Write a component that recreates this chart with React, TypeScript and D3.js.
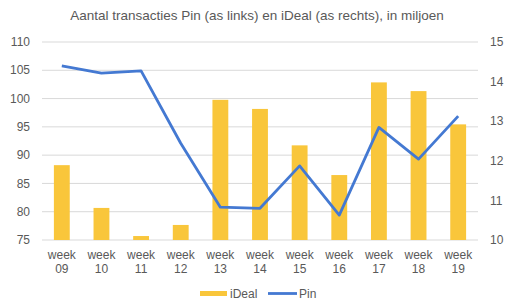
import React, { useEffect, useRef } from 'react'
import * as d3 from 'd3'

const weeks = ['09', '10', '11', '12', '13', '14', '15', '16', '17', '18', '19']
// iDeal (right axis), millions
const ideal = [11.89, 10.81, 10.1, 10.38, 13.54, 13.31, 12.39, 11.64, 13.98, 13.76, 12.92]
// Pin (left axis), millions
const pin = [105.8, 104.5, 104.9, 92.1, 80.8, 80.6, 88.1, 79.4, 94.9, 89.3, 96.9]
const leftTicks = [75, 80, 85, 90, 95, 100, 105, 110]
const rightTicks = [10, 11, 12, 13, 14, 15]

const W = 508
const H = 300
const margin = { top: 42, right: 30, bottom: 60, left: 42 }
const font = '"Liberation Sans", Arial, sans-serif'
const textColor = '#595959'
const barColor = '#F9C63B'
const lineColor = '#4479D2'

export default function App() {
  const svgRef = useRef<SVGSVGElement>(null)

  useEffect(() => {
    if (!svgRef.current) return
    const svg = d3.select(svgRef.current)
    svg.selectAll('*').remove()

    const x = d3.scaleBand().domain(weeks).range([margin.left, W - margin.right]).paddingInner(0.6).paddingOuter(0.3)
    const yL = d3.scaleLinear().domain([75, 110]).range([H - margin.bottom, margin.top])
    const yR = d3.scaleLinear().domain([10, 15]).range([H - margin.bottom, margin.top])

    // title
    svg.append('text')
      .attr('x', 257).attr('y', 20)
      .attr('text-anchor', 'middle')
      .attr('font-family', font).attr('font-size', 13.5)
      .attr('fill', textColor)
      .text('Aantal transacties Pin (as links) en iDeal (as rechts), in miljoen')

    // gridlines
    svg.append('g').selectAll('line').data(leftTicks).join('line')
      .attr('x1', margin.left).attr('x2', W - margin.right)
      .attr('y1', d => yL(d)).attr('y2', d => yL(d))
      .attr('stroke', '#d9d9d9').attr('stroke-width', 1)

    // left labels
    svg.append('g').selectAll('text').data(leftTicks).join('text')
      .attr('x', 30).attr('y', d => yL(d)).attr('dy', '0.35em')
      .attr('text-anchor', 'end')
      .attr('font-family', font).attr('font-size', 12).attr('fill', textColor)
      .text(d => d)

    // right labels
    svg.append('g').selectAll('text').data(rightTicks).join('text')
      .attr('x', 490).attr('y', d => yR(d)).attr('dy', '0.35em')
      .attr('text-anchor', 'start')
      .attr('font-family', font).attr('font-size', 12).attr('fill', textColor)
      .text(d => d)

    // bars
    svg.append('g').selectAll('rect').data(ideal).join('rect')
      .attr('x', (d, i) => x(weeks[i])!)
      .attr('width', x.bandwidth())
      .attr('y', d => yR(d))
      .attr('height', d => yR(10) - yR(d))
      .attr('fill', barColor)

    // line
    const line = d3.line<number>()
      .x((d, i) => x(weeks[i])! + x.bandwidth() / 2)
      .y(d => yL(d))
    svg.append('path')
      .attr('d', line(pin))
      .attr('fill', 'none')
      .attr('stroke', lineColor)
      .attr('stroke-width', 2.8)
      .attr('stroke-linejoin', 'round')

    // x labels
    const xl = svg.append('g').selectAll('text').data(weeks).join('text')
      .attr('x', d => x(d)! + x.bandwidth() / 2)
      .attr('text-anchor', 'middle')
      .attr('font-family', font).attr('font-size', 12).attr('fill', textColor)
    xl.append('tspan').attr('x', d => x(d)! + x.bandwidth() / 2).attr('y', 259).text('week')
    xl.append('tspan').attr('x', d => x(d)! + x.bandwidth() / 2).attr('y', 273).text(d => d)

    // legend
    const lg = svg.append('g')
    lg.append('rect').attr('x', 200).attr('y', 291).attr('width', 27).attr('height', 5).attr('fill', barColor)
    lg.append('text').attr('x', 230).attr('y', 293.5).attr('dy', '0.35em')
      .attr('font-family', font).attr('font-size', 12).attr('fill', textColor).text('iDeal')
    lg.append('line').attr('x1', 268).attr('x2', 297).attr('y1', 293.5).attr('y2', 293.5)
      .attr('stroke', lineColor).attr('stroke-width', 2.8)
    lg.append('text').attr('x', 299).attr('y', 293.5).attr('dy', '0.35em')
      .attr('font-family', font).attr('font-size', 12).attr('fill', textColor).text('Pin')
  }, [])

  return (
    <svg ref={svgRef} width={W} height={H} style={{ position: 'absolute', left: 0, top: 0, background: '#fff' }} />
  )
}
